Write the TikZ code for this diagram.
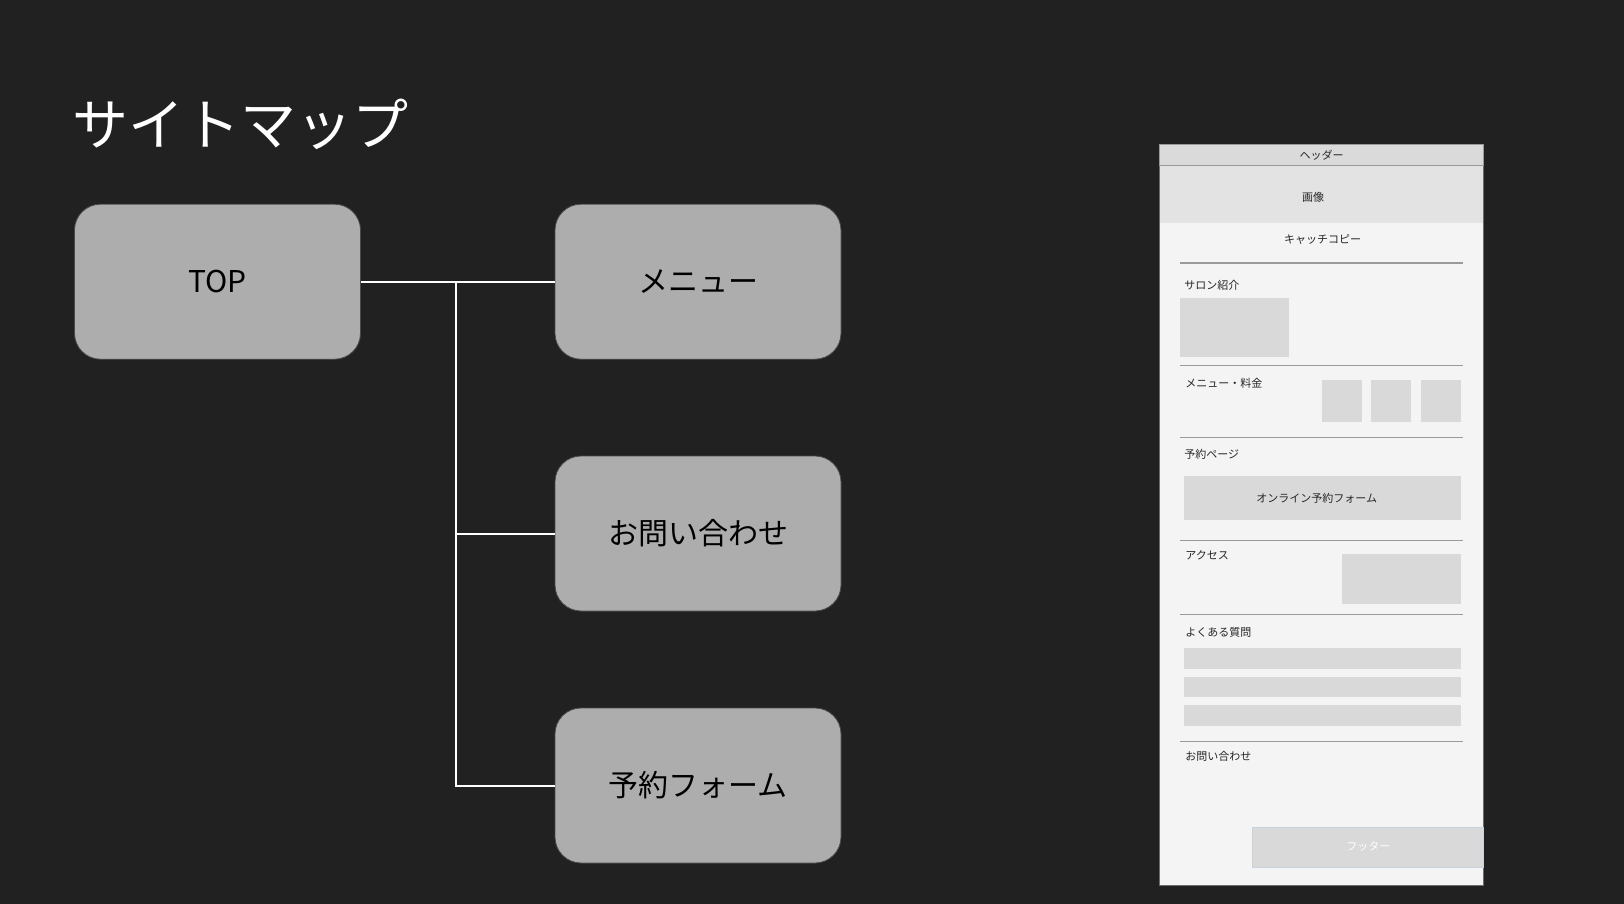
\documentclass[tikz,border=0pt]{standalone}
\usepackage{fontspec}
\newfontfamily\jp{Noto Sans CJK JP}

\definecolor{bg}{HTML}{212121}
\definecolor{boxgray}{HTML}{ADADAD}
\definecolor{boxedge}{HTML}{4A4A4A}
\definecolor{panel}{HTML}{F4F4F4}
\definecolor{headgray}{HTML}{DADADA}
\definecolor{imggray}{HTML}{E3E3E3}
\definecolor{blockgray}{HTML}{D9D9D9}
\definecolor{rulegray}{HTML}{9A9A9A}
\definecolor{footedge}{HTML}{C9D3DE}

\tikzset{
  pagebox/.style={draw=boxedge, fill=boxgray, rounded corners=13pt,
    minimum width=143pt, minimum height=77.5pt,
    font=\jp\fontsize{15}{18}\selectfont, text=black},
  wire/.style={draw=white, line width=1pt},
  wflabel/.style={font=\jp\fontsize{5.5}{6.6}\selectfont, text=black!85, inner sep=0pt},
  secttl/.style={wflabel, anchor=west},
  block/.style={fill=blockgray},
  divider/.style={draw=rulegray, line width=0.6pt},
}

\begin{document}
\begin{tikzpicture}[x=0.5pt, y=-0.5pt]
    \fill[bg] (0,0) rectangle (1624,904);

    \node[anchor=west, text=white, inner sep=0pt, font=\jp\fontsize{28}{34}\selectfont] (title) at (72,124) {サイトマップ};

    % site map
    \node[pagebox] (top) at (217.5,281.7) {TOP};
    \node[pagebox] (menu) at (698,281.7) {メニュー};
    \node[pagebox] (contact) at (698,533.5) {お問い合わせ};
    \node[pagebox] (form) at (698,785.5) {予約フォーム};

    \coordinate (trunk) at (456,281.7);
    \draw[wire] (top.east) -- (menu.west);
    \draw[wire] (trunk) |- (form.west);
    \draw[wire] (trunk |- contact.west) -- (contact.west);

    % wireframe
    \draw[draw=rulegray!70!black, fill=panel] (1159.5,144.5) rectangle (1483,885.5);
    \draw[draw=rulegray, fill=headgray] (1159.5,144.5) rectangle (1483,165.5);
    \fill[imggray] (1160,166.2) rectangle (1482.5,223);
    \node[wflabel] (header) at (1321.5,155) {ヘッダー};
    \node[wflabel] (image) at (1313,197.7) {画像};
    \node[wflabel] (catch) at (1322.5,240) {キャッチコピー};

    \draw[divider] (1180,263) -- (1463,263);
    \node[secttl] (salon) at (1184,285.7) {サロン紹介};
    \fill[block] (1180,298.3) rectangle (1289,356.7);

    \draw[divider] (1180,365.3) -- (1463,365.3);
    \node[secttl] (price) at (1185,383.3) {メニュー・料金};
    \fill[block] (1321.7,380) rectangle (1361.7,422);
    \fill[block] (1371,380) rectangle (1411,422);
    \fill[block] (1420.7,380) rectangle (1460.7,422);

    \draw[divider] (1180,437.3) -- (1463,437.3);
    \node[secttl] (reserve) at (1184,454) {予約ページ};
    \fill[block] (1184,475.7) rectangle (1460.7,520);
    \node[wflabel] (online) at (1316.7,498.3) {オンライン予約フォーム};

    \draw[divider] (1180,540.3) -- (1463,540.3);
    \node[secttl] (access) at (1185,555) {アクセス};
    \fill[block] (1341.7,554.3) rectangle (1460.7,604.3);

    \draw[divider] (1180,614.5) -- (1463,614.5);
    \node[secttl] (faq) at (1185,632.3) {よくある質問};
    \fill[block] (1184,648.3) rectangle (1460.7,669);
    \fill[block] (1184,677) rectangle (1460.7,697.3);
    \fill[block] (1184,705.3) rectangle (1460.7,726);

    \draw[divider] (1180,741.3) -- (1463,741.3);
    \node[secttl] (inquiry) at (1185,756.7) {お問い合わせ};

    \draw[draw=footedge, fill=blockgray] (1252,827.7) rectangle (1483,867.7);
    \node[wflabel, text=white] (footer) at (1368.3,846.7) {フッター};
\end{tikzpicture}
\end{document}
